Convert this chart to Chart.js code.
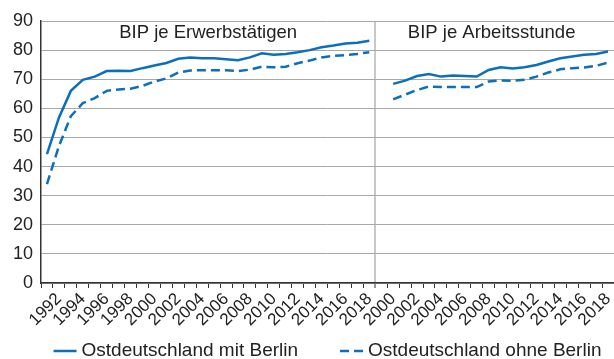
<!DOCTYPE html>
<html>
<head>
<meta charset="utf-8">
<script src="https://cdn.jsdelivr.net/npm/chart.js@4"></script>
<style>
  body { margin: 0; background: #fff; }
  #wrap { width: 614px; height: 359px; }
</style>
</head>
<body>
<div id="wrap"><canvas id="bipChart"></canvas></div>
<script>
// Jahre der beiden Teilgrafiken
const jahreErw = [1991, 1992, 1993, 1994, 1995, 1996, 1997, 1998, 1999, 2000, 2001, 2002, 2003, 2004,
                  2005, 2006, 2007, 2008, 2009, 2010, 2011, 2012, 2013, 2014, 2015, 2016, 2017, 2018];
const jahreStd = [1999, 2000, 2001, 2002, 2003, 2004, 2005, 2006, 2007, 2008,
                  2009, 2010, 2011, 2012, 2013, 2014, 2015, 2016, 2017, 2018];

// BIP je Erwerbstätigen (Westdeutschland = 100)
const mitBerlinErw  = [44.3, 56.8, 66.0, 69.8, 70.9, 72.8, 72.9, 72.8, 73.8, 74.7, 75.6, 77.0, 77.5, 77.2,
                       77.2, 76.9, 76.5, 77.5, 78.9, 78.4, 78.7, 79.3, 80.0, 81.0, 81.6, 82.3, 82.5, 83.2];
const ohneBerlinErw = [34.0, 47.0, 57.3, 61.8, 63.5, 66.0, 66.5, 66.7, 67.7, 69.2, 70.3, 72.3, 73.0, 73.1,
                       73.1, 73.1, 72.8, 73.3, 74.3, 74.1, 74.3, 75.5, 76.4, 77.5, 78.0, 78.3, 78.7, 79.3];

// BIP je Arbeitsstunde (1999 ohne Wert)
const mitBerlinStd  = [null, 68.4, 69.5, 71.1, 71.8, 70.9, 71.3, 71.1, 70.9, 73.2,
                       74.1, 73.7, 74.1, 74.9, 76.1, 77.2, 77.8, 78.4, 78.7, 79.5];
const ohneBerlinStd = [null, 63.1, 64.7, 66.3, 67.5, 67.3, 67.3, 67.3, 67.3, 69.2,
                       69.6, 69.5, 69.8, 70.9, 72.3, 73.4, 73.8, 74.0, 74.6, 75.7];

const serienNamen = ['Ostdeutschland mit Berlin', 'Ostdeutschland ohne Berlin'];
const panelTitel = ['BIP je Erwerbstätigen', 'BIP je Arbeitsstunde'];
const yTicks = [0, 10, 20, 30, 40, 50, 60, 70, 80, 90];

const blau = '#0b6fbb';
const textFarbe = '#222';
const schrift = '"Liberation Sans", Arial, Helvetica, sans-serif';
const trennIndex = jahreErw.length;

Chart.defaults.font.family = schrift;
Chart.defaults.color = textFarbe;

// Überschriften der beiden Teilgrafiken
const panelTitelPlugin = {
  id: 'panelTitel',
  afterDraw(chart) {
    const { ctx, chartArea, scales } = chart;
    const schritt = scales.x.getPixelForValue(1) - scales.x.getPixelForValue(0);
    const trennX = scales.x.getPixelForValue(trennIndex) - schritt / 2;
    const y = scales.y.getPixelForValue(85.9);
    ctx.save();
    ctx.font = '18.5px ' + schrift;
    ctx.fillStyle = textFarbe;
    ctx.textAlign = 'center';
    ctx.textBaseline = 'middle';
    ctx.fillText(panelTitel[0], (chartArea.left + trennX) / 2, y);
    ctx.fillText(panelTitel[1], (trennX + chartArea.right) / 2 - 3, y);
    ctx.restore();
  }
};

// Legende unten: Linienmuster + Text
const legendePlugin = {
  id: 'legendeUnten',
  afterDraw(chart) {
    const { ctx, chartArea } = chart;
    const musterBreite = 23, abstand = 5, luecke = 42;
    ctx.save();
    ctx.font = '19px ' + schrift;
    const breiten = serienNamen.map(t => ctx.measureText(t).width);
    const gesamt = breiten.reduce((s, b) => s + musterBreite + abstand + b, 0) + luecke;
    let x = (chartArea.left + chartArea.right) / 2 - gesamt / 2;
    const y = chart.height - 8;
    chart.data.datasets.forEach((ds, i) => {
      ctx.strokeStyle = ds.borderColor;
      ctx.lineWidth = ds.borderWidth;
      ctx.setLineDash(ds.borderDash || []);
      ctx.beginPath();
      ctx.moveTo(x, y);
      ctx.lineTo(x + musterBreite, y);
      ctx.stroke();
      ctx.setLineDash([]);
      ctx.fillStyle = textFarbe;
      ctx.textBaseline = 'middle';
      ctx.fillText(serienNamen[i], x + musterBreite + abstand, y);
      x += musterBreite + abstand + breiten[i] + luecke;
    });
    ctx.restore();
  }
};

new Chart(document.getElementById('bipChart'), {
  type: 'line',
  data: {
    labels: jahreErw.concat(jahreStd),
    datasets: [
      {
        label: serienNamen[0],
        data: mitBerlinErw.concat(mitBerlinStd),
        borderColor: blau,
        borderWidth: 2.5,
        pointRadius: 0,
        tension: 0
      },
      {
        label: serienNamen[1],
        data: ohneBerlinErw.concat(ohneBerlinStd),
        borderColor: blau,
        borderWidth: 2.5,
        borderDash: [9, 5],
        pointRadius: 0,
        tension: 0
      }
    ]
  },
  options: {
    responsive: true,
    maintainAspectRatio: false,
    animation: false,
    layout: { padding: { top: 21, right: 0, bottom: 30, left: 0 } },
    plugins: {
      legend: { display: false },
      tooltip: { enabled: false }
    },
    scales: {
      x: {
        type: 'category',
        offset: true,
        grid: {
          offset: true,
          color: c => c.index === trennIndex ? '#c8c8c8' : 'rgba(0,0,0,0)',
          lineWidth: c => c.index === trennIndex ? 2 : 1,
          tickColor: '#333',
          tickLength: 5,
          tickWidth: 1
        },
        border: { color: '#333', width: 1.5 },
        ticks: {
          autoSkip: false,
          minRotation: 45,
          maxRotation: 45,
          padding: 1,
          color: textFarbe,
          font: { size: 17 },
          callback(value, index) {
            return index % 2 === 1 ? this.getLabelForValue(value) : '';
          }
        },
        afterFit(scale) {
          scale.height = 46;
          scale.paddingRight = 0;
          scale.paddingLeft = 0;
        }
      },
      y: {
        min: yTicks[0],
        max: yTicks[yTicks.length - 1],
        afterBuildTicks(scale) { scale.ticks = yTicks.map(v => ({ value: v })); },
        ticks: { padding: 8, color: textFarbe, font: { size: 18 } },
        grid: { color: '#a8a8a8', lineWidth: 1, drawTicks: false },
        border: { color: '#333', width: 1.5 },
        afterFit(scale) { scale.width = 41; }
      }
    }
  },
  plugins: [panelTitelPlugin, legendePlugin]
});
</script>
</body>
</html>
